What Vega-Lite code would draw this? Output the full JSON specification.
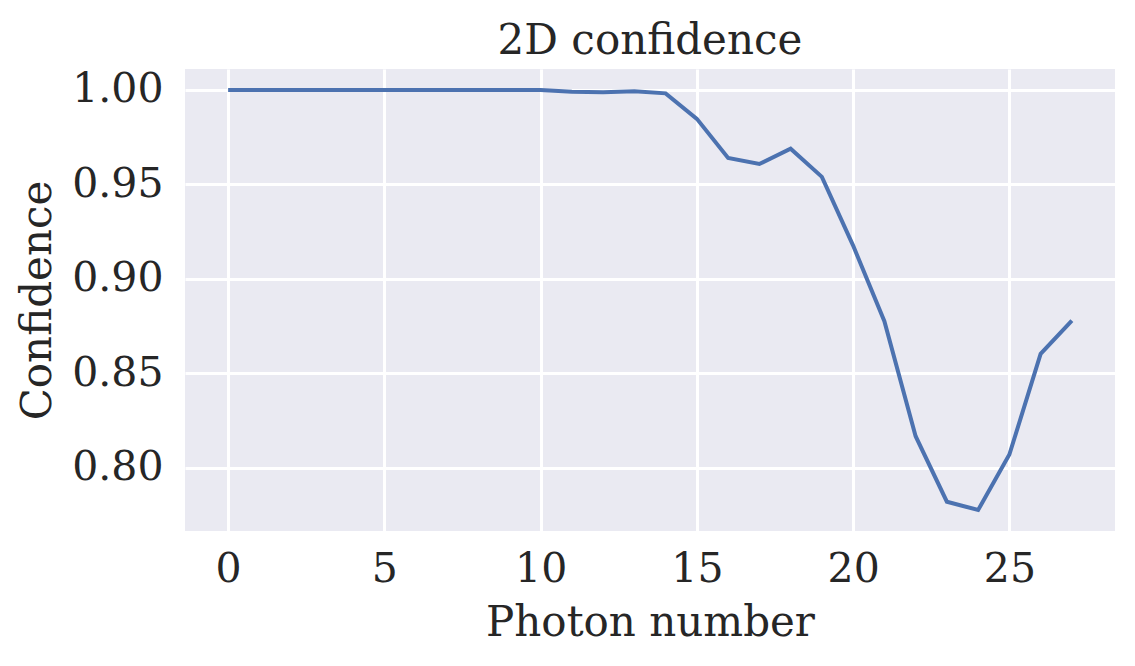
{
  "$schema": "https://vega.github.io/schema/vega-lite/v6.json",
  "width": 930,
  "height": 462,
  "autosize": "none",
  "padding": {"left": 185, "top": 69, "right": 20, "bottom": 135},
  "background": "white",
  "title": {
    "text": "2D confidence",
    "font": "DejaVu Serif",
    "fontSize": 42,
    "fontWeight": "normal",
    "color": "#262626",
    "offset": 6
  },
  "config": {
    "view": {"fill": "#EAEAF2", "stroke": null},
    "axis": {
      "labelFont": "DejaVu Serif",
      "labelFontSize": 41,
      "labelColor": "#262626",
      "titleFont": "DejaVu Serif",
      "titleFontSize": 42,
      "titleFontWeight": "normal",
      "titleColor": "#262626",
      "gridColor": "white",
      "gridWidth": 3,
      "gridOpacity": 1,
      "ticks": false,
      "domain": false
    }
  },
  "data": {
    "values": [
      {"photon": 0, "confidence": 1.0},
      {"photon": 1, "confidence": 1.0},
      {"photon": 2, "confidence": 1.0},
      {"photon": 3, "confidence": 1.0},
      {"photon": 4, "confidence": 1.0},
      {"photon": 5, "confidence": 1.0},
      {"photon": 6, "confidence": 1.0},
      {"photon": 7, "confidence": 1.0},
      {"photon": 8, "confidence": 1.0},
      {"photon": 9, "confidence": 1.0},
      {"photon": 10, "confidence": 1.0},
      {"photon": 11, "confidence": 0.9991},
      {"photon": 12, "confidence": 0.9988},
      {"photon": 13, "confidence": 0.9993},
      {"photon": 14, "confidence": 0.9982},
      {"photon": 15, "confidence": 0.9847},
      {"photon": 16, "confidence": 0.964},
      {"photon": 17, "confidence": 0.9608},
      {"photon": 18, "confidence": 0.9689},
      {"photon": 19, "confidence": 0.954},
      {"photon": 20, "confidence": 0.9176},
      {"photon": 21, "confidence": 0.8776},
      {"photon": 22, "confidence": 0.8167},
      {"photon": 23, "confidence": 0.782},
      {"photon": 24, "confidence": 0.7776},
      {"photon": 25, "confidence": 0.807},
      {"photon": 26, "confidence": 0.8603},
      {"photon": 27, "confidence": 0.8779}
    ]
  },
  "mark": {"type": "line", "color": "#4C72B0", "strokeWidth": 4},
  "encoding": {
    "x": {
      "field": "photon",
      "type": "quantitative",
      "scale": {"domain": [-1.38, 28.38], "nice": false, "zero": false},
      "axis": {
        "title": "Photon number",
        "values": [0, 5, 10, 15, 20, 25],
        "labelPadding": 18,
        "titlePadding": 13
      }
    },
    "y": {
      "field": "confidence",
      "type": "quantitative",
      "scale": {"domain": [0.7665, 1.0111], "nice": false, "zero": false},
      "axis": {
        "title": "Confidence",
        "values": [0.8, 0.85, 0.9, 0.95, 1.0],
        "format": ".2f",
        "labelPadding": 22,
        "titlePadding": 12
      }
    }
  }
}
